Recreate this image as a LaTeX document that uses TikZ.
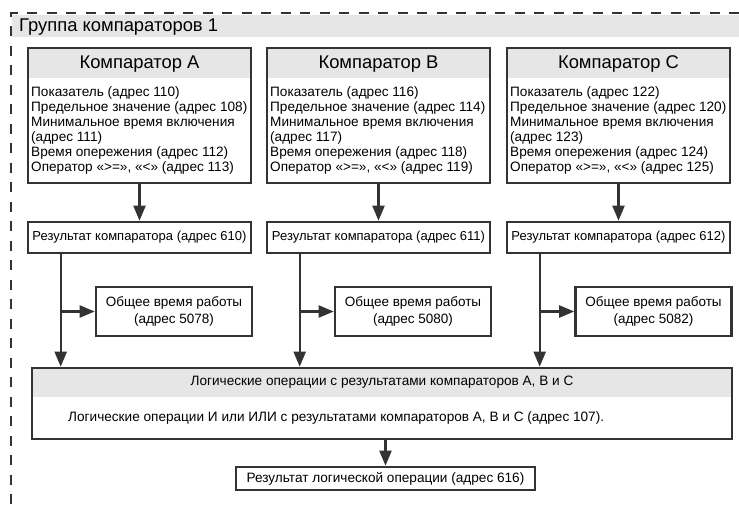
\documentclass[tikz,border=0pt]{standalone}
\usepackage{fontspec}
\setmainfont{Liberation Sans}
\usetikzlibrary{arrows.meta}
\definecolor{ln}{HTML}{333333}
\definecolor{hdr}{HTML}{E6E6E6}
\begin{document}
\begin{tikzpicture}[x=1pt,y=-1pt,
  box/.style={draw=ln, line width=2.6pt, inner sep=0pt, fill=white},
  cmpbox/.style={box, minimum width=223pt, minimum height=135pt,
    path picture={\fill[hdr] (path picture bounding box.north west) rectangle ([yshift=-30pt]path picture bounding box.north east);}},
  resbox/.style={box, minimum width=223pt, minimum height=31pt, font=\fontsize{13}{15}\selectfont},
  totbox/.style={box, minimum width=156pt, minimum height=49pt, align=center, font=\fontsize{13.5}{17}\selectfont},
  logbox/.style={box, minimum width=700pt, minimum height=71pt,
    path picture={\fill[hdr] (path picture bounding box.north west) rectangle ([yshift=-29pt]path picture bounding box.north east);}},
  ttl/.style={inner sep=0pt, font=\fontsize{18.4}{20}\selectfont},
  body/.style={inner sep=0pt, align=left, font=\fontsize{13.6}{15}\selectfont},
  ltxt/.style={inner sep=0pt, font=\fontsize{13.6}{15}\selectfont},
  arr/.style={draw=ln, line width=2.2pt, -{Triangle[length=15pt,width=12pt]}},
  frame/.style={draw=ln, line width=2.6pt, dash pattern=on 10pt off 9.5pt}
]
\useasboundingbox (0,0) rectangle (739,504);
% group frame
\fill[hdr] (12,15) rectangle (739,37);
\coordinate (fbl) at (11,504);
\coordinate (ftl) at (11,13);
\coordinate (ftr) at (739,13);
\draw[frame] (fbl) -- (ftl) -- (ftr);
\node[ttl, anchor=base west] (gt) at (19,31.5) {Группа компараторов 1};

% comparators
\node[cmpbox] (cA) at (139.5,115.5) {};
\node[cmpbox] (cB) at (378.5,115.5) {};
\node[cmpbox] (cC) at (618.5,115.5) {};
\node[ttl, anchor=base] (tA) at (139.5,68.3) {Компаратор A};
\node[ttl, anchor=base] (tB) at (378.5,68.3) {Компаратор B};
\node[ttl, anchor=base] (tC) at (618.5,68.3) {Компаратор C};
\node[body, anchor=north west] (bA) at (31,86) {Показатель (адрес 110)\\Предельное значение (адрес 108)\\Минимальное время включения\\(адрес 111)\\Время опережения (адрес 112)\\Оператор «>=», «<» (адрес 113)};
\node[body, anchor=north west] (bB) at (270,86) {Показатель (адрес 116)\\Предельное значение (адрес 114)\\Минимальное время включения\\(адрес 117)\\Время опережения (адрес 118)\\Оператор «>=», «<» (адрес 119)};
\node[body, anchor=north west] (bC) at (510,86) {Показатель (адрес 122)\\Предельное значение (адрес 120)\\Минимальное время включения\\(адрес 123)\\Время опережения (адрес 124)\\Оператор «>=», «<» (адрес 125)};

% results
\node[resbox] (rA) at (139.5,237.5) {Результат компаратора (адрес 610)};
\node[resbox] (rB) at (378.5,237.5) {Результат компаратора (адрес 611)};
\node[resbox] (rC) at (618.5,237.5) {Результат компаратора (адрес 612)};

% totals
\node[totbox] (oA) at (174,311.5) {Общее время работы\\(адрес 5078)};
\node[totbox] (oB) at (413,311.5) {Общее время работы\\(адрес 5080)};
\node[totbox] (oC) at (653.5,311.5) {Общее время работы\\(адрес 5082)};

% logic
\node[logbox] (lg) at (382,403.5) {};
\node[ltxt] (lh) at (382,382.5) {Логические операции с результатами компараторов A, B и C};
\node[ltxt, anchor=west] (lb) at (68,418) {Логические операции И или ИЛИ с результатами компараторов A, B и C (адрес 107).};
\node[box, minimum width=299pt, minimum height=23pt, font=\fontsize{13.6}{15}\selectfont] (fin) at (385.5,478.5) {Результат логической операции (адрес 616)};

% connectors
\draw[arr] (cA.south) -- (rA.north);
\draw[arr] (cB.south) -- (rB.north);
\draw[arr] (cC.south) -- (rC.north);
\coordinate (dA) at ([xshift=34pt]rA.south west);
\coordinate (dB) at ([xshift=34pt]rB.south west);
\coordinate (dC) at ([xshift=34pt]rC.south west);
\draw[arr] (dA) -- (dA |- lg.north);
\draw[arr] (dB) -- (dB |- lg.north);
\draw[arr] (dC) -- (dC |- lg.north);
\draw[arr] (dA |- oA.west) -- (oA.west);
\draw[arr] (dB |- oB.west) -- (oB.west);
\draw[arr] (dC |- oC.west) -- (oC.west);
\draw[arr] (fin.north |- lg.south) -- (fin.north);
\end{tikzpicture}
\end{document}
